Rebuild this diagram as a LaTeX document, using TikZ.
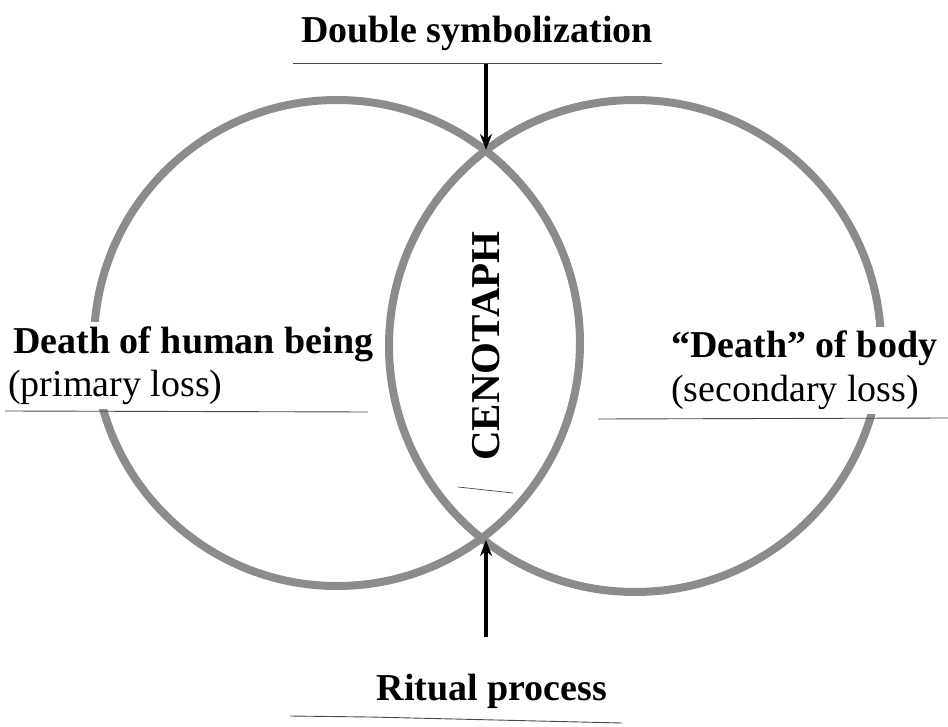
\documentclass[tikz,border=0pt]{standalone}
\usepackage{fontspec}
\setmainfont{Liberation Serif}
\usetikzlibrary{arrows.meta}
\definecolor{ringgray}{RGB}{140,140,140}
\definecolor{rulegray}{RGB}{70,70,80}
\tikzset{
  ring/.style={draw=ringgray, line width=8pt},
  rulel/.style={draw=rulegray, line width=0.9pt},
  lbl/.style={font=\fontsize{38}{43}\selectfont\bfseries, inner sep=0pt},
  sublbl/.style={font=\fontsize{38}{43}\selectfont, inner sep=0pt},
  cover/.style={fill=white, inner sep=3pt, text height=28pt, text depth=10pt},
  pointer/.style={draw=black, line width=3.2pt, -{Stealth[length=16pt,width=12pt]}}
}
\begin{document}
\begin{tikzpicture}[x=1pt,y=-1pt]
\useasboundingbox (0,0) rectangle (948,727);
% circles
\node[ring, circle, minimum size=486pt, inner sep=0pt] (lc) at (337,343) {};
\node[ring, circle, minimum size=492pt, inner sep=0pt] (rc) at (635,346) {};
\coordinate (topx) at (486,150);
\coordinate (botx) at (486,540);
% labels
\node[lbl, anchor=base] (dbl) at (477,43) {Double symbolization};
\node[lbl, cover, anchor=base west] (hum) at (10,353) {Death of human being};
\node[sublbl, cover, anchor=base west] (prim) at (5,396) {(primary loss)};
\node[lbl, cover, anchor=base west] (body) at (668,358) {“Death” of body};
\node[sublbl, cover, anchor=base west] (sec) at (668,401) {(secondary loss)};
\node[lbl, font=\fontsize{41}{46}\selectfont\bfseries, rotate=90] (ceno) at (486,346) {CENOTAPH};
\node[lbl, anchor=base] (rit) at (492,700) {Ritual process};
% underlines
\coordinate (t1) at (293,63); \coordinate (t2) at (662,63);
\coordinate (l1) at (5,411); \coordinate (l2) at (368,412);
\coordinate (r1) at (598,419); \coordinate (r2) at (948,418);
\coordinate (b1) at (290,716); \coordinate (b2) at (370,717); \coordinate (b3) at (622,723);
\coordinate (d1) at (458,487); \coordinate (d2) at (513,493);
\draw[rulel] (t1) -- (t2);
\draw[rulel] (l1) -- (l2);
\draw[rulel] (r1) -- (r2);
\draw[rulel] (b1) -- (b2) -- (b3);
\draw[rulel, line width=0.7pt] (d1) -- (d2);
% arrows
\coordinate (tstart) at (486,64);
\coordinate (bstart) at (486,637);
\draw[pointer] (tstart) -- (topx);
\draw[pointer] (bstart) -- (botx);
\end{tikzpicture}
\end{document}
